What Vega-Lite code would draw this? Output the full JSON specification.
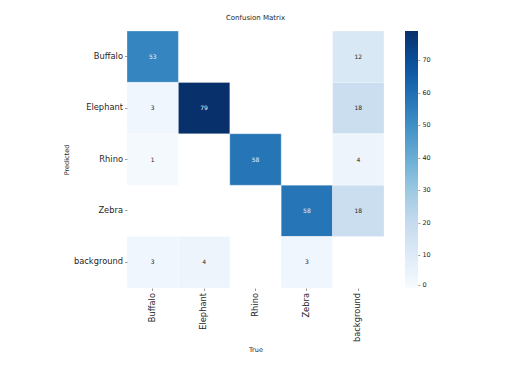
{
  "$schema": "https://vega.github.io/schema/vega-lite/v6.json",
  "autosize": {"type": "none"},
  "padding": {"left": 127, "top": 31, "right": 128, "bottom": 101},
  "width": 257,
  "height": 257,
  "background": "white",
  "config": {
    "font": "DejaVu Sans",
    "view": {"stroke": null}
  },
  "title": {
    "text": "Confusion Matrix",
    "fontSize": 7,
    "fontWeight": "normal",
    "color": "#262626",
    "anchor": "middle",
    "offset": 10
  },
  "data": {
    "values": [
      {"Predicted": "Buffalo", "True": "Buffalo", "value": 53},
      {"Predicted": "Buffalo", "True": "background", "value": 12},
      {"Predicted": "Elephant", "True": "Buffalo", "value": 3},
      {"Predicted": "Elephant", "True": "Elephant", "value": 79},
      {"Predicted": "Elephant", "True": "background", "value": 18},
      {"Predicted": "Rhino", "True": "Buffalo", "value": 1},
      {"Predicted": "Rhino", "True": "Rhino", "value": 58},
      {"Predicted": "Rhino", "True": "background", "value": 4},
      {"Predicted": "Zebra", "True": "Zebra", "value": 58},
      {"Predicted": "Zebra", "True": "background", "value": 18},
      {"Predicted": "background", "True": "Buffalo", "value": 3},
      {"Predicted": "background", "True": "Elephant", "value": 4},
      {"Predicted": "background", "True": "Zebra", "value": 3}
    ]
  },
  "encoding": {
    "x": {
      "field": "True",
      "type": "nominal",
      "sort": ["Buffalo", "Elephant", "Rhino", "Zebra", "background"],
      "scale": {"domain": ["Buffalo", "Elephant", "Rhino", "Zebra", "background"], "paddingInner": 0, "paddingOuter": 0},
      "axis": {
        "title": "True",
        "titleFontSize": 6.5,
        "titleFontWeight": "normal",
        "titleColor": "#262626",
        "titlePadding": 5,
        "labelAngle": -90,
        "labelFontSize": 8.3,
        "labelColor": "#262626",
        "labelPadding": 2,
        "tickSize": 2.5,
        "tickColor": "#555555",
        "tickWidth": 0.6,
        "domain": false
      }
    },
    "y": {
      "field": "Predicted",
      "type": "nominal",
      "sort": ["Buffalo", "Elephant", "Rhino", "Zebra", "background"],
      "scale": {"domain": ["Buffalo", "Elephant", "Rhino", "Zebra", "background"], "paddingInner": 0, "paddingOuter": 0},
      "axis": {
        "title": "Predicted",
        "titleFontSize": 6.5,
        "titleFontWeight": "normal",
        "titleColor": "#262626",
        "titlePadding": 4,
        "labelFontSize": 8.3,
        "labelColor": "#262626",
        "labelPadding": 2,
        "tickSize": 2.5,
        "tickColor": "#555555",
        "tickWidth": 0.6,
        "domain": false
      }
    }
  },
  "layer": [
    {
      "mark": {"type": "rect", "stroke": "white", "strokeWidth": 0.3},
      "encoding": {
        "color": {
          "field": "value",
          "type": "quantitative",
          "scale": {
            "domain": [0, 9.875, 19.75, 29.625, 39.5, 49.375, 59.25, 69.125, 79],
            "range": ["#f7fbff", "#deebf7", "#c6dbef", "#9ecae1", "#6baed6", "#4292c6", "#2171b5", "#08519c", "#08306b"]
          },
          "legend": {
            "title": null,
            "orient": "none",
            "legendX": 278,
            "legendY": 0,
            "direction": "vertical",
            "gradientLength": 257,
            "gradientThickness": 13,
            "gradientStrokeWidth": 0,
            "values": [0, 10, 20, 30, 40, 50, 60, 70],
            "labelExpr": "'- ' + datum.label",
            "labelFontSize": 6.5,
            "labelColor": "#262626",
            "labelOffset": 0,
            "labelOverlap": false
          }
        }
      }
    },
    {
      "mark": {"type": "text", "fontSize": 6},
      "encoding": {
        "text": {"field": "value", "type": "quantitative"},
        "color": {
          "condition": {"test": "datum.value > 40", "value": "#e8f1fa"},
          "value": "#262626"
        }
      }
    }
  ]
}
